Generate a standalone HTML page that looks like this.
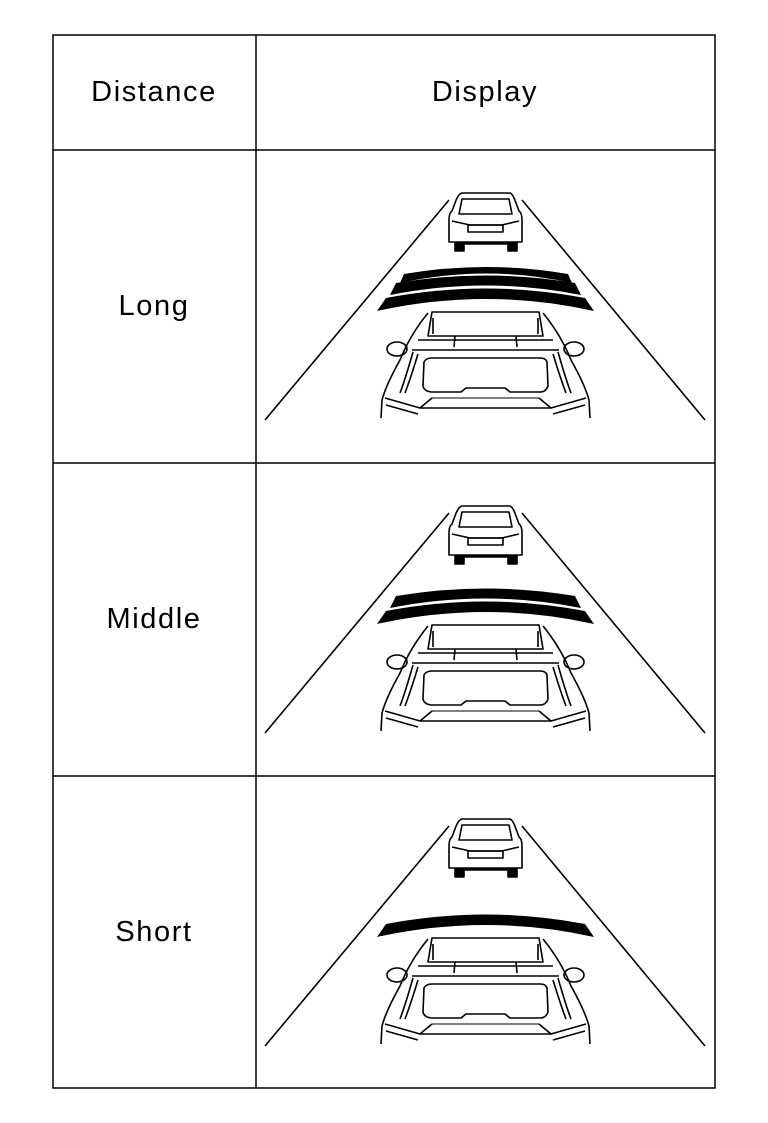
<!DOCTYPE html>
<html><head><meta charset="utf-8"><style>
html,body{margin:0;padding:0;background:#fff;}
body{width:768px;height:1123px;position:relative;overflow:hidden;}
svg{position:absolute;left:0;top:0;}
text{font-family:"Liberation Sans",Arial,sans-serif;font-size:29px;fill:#000;letter-spacing:1.6px;}
</style></head><body>
<svg width="768" height="1123" viewBox="0 0 768 1123">
<defs>
<g id="scene" fill="none" stroke="#000" stroke-width="1.6" stroke-linejoin="round">
  <line x1="449" y1="200" x2="265" y2="420"/>
  <line x1="522" y1="200" x2="705" y2="420"/>
  <path d="M455 229 L455 251 L464 251 L464 244 L508 244 L508 251 L517 251 L517 229 Z" fill="#000"/>
  <path d="M462 193 L510 193 Q513 194 516 203 L519 211 Q522 213 522 220 L522 242 L449 242 L449 220 Q449 213 452 211 L455 203 Q458 194 462 193 Z" fill="#fff"/>
  <path d="M462 199 L509 199 L512 214 L459 214 Z"/>
  <path d="M452 221 L470 225 L502 225 L519 221"/>
  <rect x="468" y="225" width="35" height="7"/>
  <path d="M428 313 Q410 335 400 360 Q386 385 382 400 L381 418 M543 313 Q561 335 571 360 Q585 385 589 400 L590 418"/>
  <path d="M432 312 L539 312 L543 336 L428 336 Z"/>
  <path d="M433 318 L433 334 M538 318 L538 334"/>
  <path d="M455 336 L454 347 M516 336 L517 347"/>
  <path d="M418 340 L553 340 M412 350 L559 350"/>
  <path d="M413 352 Q405 380 400 393 M558 352 Q566 380 571 393"/>
  <path d="M418 354 Q410 380 405 393 M553 354 Q561 380 566 393"/>
  <path d="M424 362 Q426 358 432 358 L540 358 Q546 358 547 362 L548 386 Q546 392 540 392 L510 392 L505 388 L466 388 L461 392 L431 392 Q424 391 423 386 Z"/>
  <ellipse cx="397" cy="349" rx="10" ry="7"/>
  <ellipse cx="574" cy="349" rx="10" ry="7"/>
  <path d="M385 398 L420 408 L432 398 M586 398 L551 408 L539 398"/>
  <path d="M386 405 L418 414 M585 405 L553 414"/>
  <path d="M420 408 L551 408"/>
  <path d="M432 398 L539 398" stroke-width="1"/>
</g>
<path id="b1" d="M400 283 Q486 264 572 283 L568 274 Q486 260 404 274 Z" fill="#000"/>
<path id="b2" d="M390 295 Q486 276 581 295 L575 283 Q486 268 396 283 Z" fill="#000"/>
<path id="b3" d="M377 311 Q486 287 594 311 L585 298 Q486 279 386 298 Z" fill="#000"/>
</defs>
<g fill="none" stroke="#000" stroke-width="1.5">
  <rect x="53" y="35" width="662" height="1053"/>
  <line x1="256" y1="35" x2="256" y2="1088"/>
  <line x1="53" y1="150" x2="715" y2="150"/>
  <line x1="53" y1="463" x2="715" y2="463"/>
  <line x1="53" y1="776" x2="715" y2="776"/>
</g>
<text x="154" y="101" text-anchor="middle">Distance</text>
<text x="485" y="101" text-anchor="middle">Display</text>
<text x="154" y="315" text-anchor="middle">Long</text>
<text x="154" y="628" text-anchor="middle">Middle</text>
<text x="154" y="941" text-anchor="middle">Short</text>
<use href="#scene"/>
<use href="#b1"/><use href="#b2"/><use href="#b3"/>
<g transform="translate(0,313)"><use href="#scene"/><use href="#b2"/><use href="#b3"/></g>
<g transform="translate(0,626)"><use href="#scene"/><use href="#b3"/></g>
</svg>
</body></html>
